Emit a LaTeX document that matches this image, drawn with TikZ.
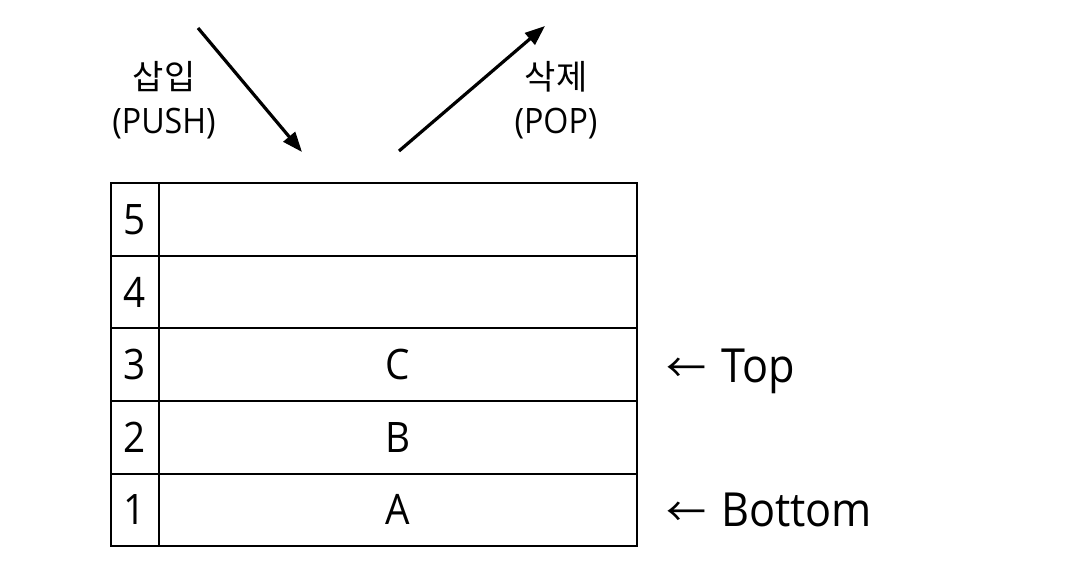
\documentclass[tikz,border=0pt]{standalone}
\usepackage{fontspec}
\setmainfont[FakeStretch=0.92]{Open Sans}
\newfontfamily\kr{Noto Sans CJK KR}
\usetikzlibrary{arrows.meta}
\begin{document}
\begin{tikzpicture}[x=1pt,y=-1pt,
  cell/.style={draw,line width=2pt,minimum height=72.5pt,inner sep=0pt,anchor=north west,font=\fontsize{42}{42}\selectfont},
  idx/.style={cell,minimum width=48pt},
  val/.style={cell,minimum width=478pt},
  mover/.style={line width=3.2pt,-{Triangle[length=20pt,width=15pt]}},
  lbl/.style={align=center,font=\fontsize{35}{44}\selectfont},
  endlabel/.style={anchor=base west,inner sep=0pt,font=\fontsize{47}{47}\selectfont}
]
\useasboundingbox (0,0) rectangle (1072,580);
% table
\node[idx] (i5) at (110,182.5) {\raisebox{-2pt}{5}};
\node[val] (v5) at (158,182.5) {};
\node[idx] (i4) at (110,255) {\raisebox{-2pt}{4}};
\node[val] (v4) at (158,255) {};
\node[idx] (i3) at (110,327.5) {\raisebox{-2pt}{3}};
\node[val] (v3) at (158,327.5) {\raisebox{-2pt}{C}};
\node[idx] (i2) at (110,400) {\raisebox{-2pt}{2}};
\node[val] (v2) at (158,400) {\raisebox{-2pt}{B}};
\node[idx] (i1) at (110,472.5) {\raisebox{-2pt}{1}};
\node[val] (v1) at (158,472.5) {\raisebox{-2pt}{A}};
% labels
\node[lbl] (push) at (164,100) {{\kr\fontsize{34}{44}\selectfont 삽입}\\(PUSH)};
\node[lbl] (pop) at (556,100) {{\kr\fontsize{34}{44}\selectfont 삭제}\\(POP)};
% arrows
\coordinate (ps) at (198,28);
\coordinate (pe) at (302,152);
\coordinate (os) at (399,151);
\coordinate (oe) at (545,26);
\draw[mover] (ps) -- (pe);
\draw[mover] (os) -- (oe);
% markers
\node[endlabel] (top) at (666,382) {{\kr\fontsize{40}{40}\selectfont ←}\hspace{15pt}Top};
\node[endlabel] (bot) at (666,526) {{\kr\fontsize{40}{40}\selectfont ←}\hspace{15pt}Bottom};
\end{tikzpicture}
\end{document}
